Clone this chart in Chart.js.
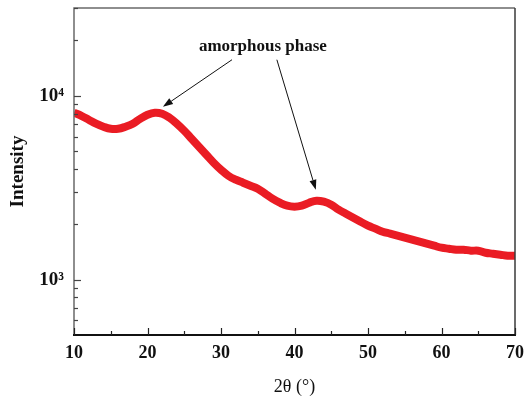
<!DOCTYPE html>
<html>
<head>
<meta charset="utf-8">
<script src="https://cdn.jsdelivr.net/npm/chart.js@4/dist/chart.umd.min.js"></script>
<style>
  html, body { margin: 0; padding: 0; background: #fff; }
  #wrap { width: 525px; height: 400px; }
</style>
</head>
<body>
<div id="wrap"><canvas id="xrd"></canvas></div>
<script>
// 2theta positions (deg) and intensity
const twoTheta = [10, 11, 12, 13, 14, 15, 16, 17, 18, 19, 20, 21, 22, 23, 24, 25, 26, 27, 28, 29,
    30, 31, 32, 33, 34, 35, 36, 37, 38, 39, 40, 41, 42, 43, 44, 45, 46, 47, 48, 49,
    50, 51, 52, 53, 54, 55, 56, 57, 58, 59, 60, 61, 62, 63, 64, 65, 66, 67, 68, 69, 70];
const intensity = [8085, 7780, 7405, 7045, 6785, 6617, 6617, 6785, 7045, 7490, 7882, 8085, 7983, 7592, 7045, 6453, 5839, 5283, 4779, 4324,
    3961, 3675, 3495, 3367, 3243, 3123, 2934, 2755, 2621, 2524, 2492, 2524, 2621, 2687, 2654, 2556, 2401, 2284, 2173, 2066,
    1966, 1893, 1823, 1778, 1734, 1692, 1650, 1609, 1569, 1530, 1492, 1473, 1455, 1455, 1437, 1437, 1401, 1384, 1367, 1350, 1350];

const xMajorTicks = [10, 20, 30, 40, 50, 60, 70];
const xMinorTicks = [15, 25, 35, 45, 55, 65];
const yMajorTicks = [1000, 10000];
const yMinorTicks = [600, 700, 800, 900, 2000, 3000, 4000, 5000, 6000, 7000, 8000, 9000, 20000, 30000];

const annoText = 'amorphous phase';
const annoAt = { x: 35.7, y: 18500 };
// arrows: tail -> head, in data units
const arrows = [
    { from: { x: 31.5, y: 15700 }, to: { x: 22.1, y: 8700 } },
    { from: { x: 37.6, y: 15700 }, to: { x: 42.9, y: 3080 } }
];

const serif = '"Liberation Serif", "Times New Roman", serif';

const supers = { '3': '\u00B3', '4': '\u2074' };
const powLabel = v => '10' + supers[String(Math.round(Math.log10(v)))];

const noEdgePad = s => {
    s.paddingTop = 0; s.paddingBottom = 0;
    s.paddingLeft = 0; s.paddingRight = 0;
};

const frameTicks = {
    id: 'frameTicks',
    afterDraw(chart) {
        const { ctx, chartArea: a, scales: { x, y } } = chart;
        ctx.save();
        // box
        ctx.lineWidth = 1.5;
        ctx.strokeStyle = '#6a6a6a';
        ctx.beginPath();
        ctx.moveTo(a.left, a.bottom);
        ctx.lineTo(a.left, a.top);
        ctx.lineTo(a.right, a.top);
        ctx.stroke();
        ctx.strokeStyle = '#3a3a3a';
        ctx.beginPath();
        ctx.moveTo(a.right, a.top);
        ctx.lineTo(a.right, a.bottom);
        ctx.stroke();
        ctx.lineWidth = 2;
        ctx.strokeStyle = '#111';
        ctx.beginPath();
        ctx.moveTo(a.left - 1, a.bottom);
        ctx.lineTo(a.right + 1, a.bottom);
        ctx.stroke();

        // inward ticks
        ctx.lineWidth = 1.2;
        ctx.strokeStyle = '#222';
        const tickX = (vals, len) => vals.forEach(v => {
            const px = Math.round(x.getPixelForValue(v)) + 0.5;
            ctx.beginPath();
            ctx.moveTo(px, a.bottom);
            ctx.lineTo(px, a.bottom - len);
            ctx.stroke();
        });
        const tickY = (vals, len) => vals.forEach(v => {
            const py = Math.round(y.getPixelForValue(v)) + 0.5;
            ctx.beginPath();
            ctx.moveTo(a.left, py);
            ctx.lineTo(a.left + len, py);
            ctx.stroke();
        });
        tickX(xMajorTicks, 7);
        tickX(xMinorTicks, 4);
        ctx.strokeStyle = '#444';
        tickY(yMajorTicks, 7);
        tickY(yMinorTicks, 4);

        // annotation
        ctx.fillStyle = '#111';
        ctx.font = 'bold 17px ' + serif;
        ctx.textAlign = 'center';
        ctx.textBaseline = 'middle';
        ctx.fillText(annoText, x.getPixelForValue(annoAt.x), y.getPixelForValue(annoAt.y));

        ctx.strokeStyle = '#111';
        ctx.lineWidth = 1;
        arrows.forEach(ar => {
            const x0 = x.getPixelForValue(ar.from.x), y0 = y.getPixelForValue(ar.from.y);
            const x1 = x.getPixelForValue(ar.to.x), y1 = y.getPixelForValue(ar.to.y);
            const ang = Math.atan2(y1 - y0, x1 - x0);
            const hl = 10, hw = 3.5;
            const bx = x1 - hl * Math.cos(ang), by = y1 - hl * Math.sin(ang);
            ctx.beginPath();
            ctx.moveTo(x0, y0);
            ctx.lineTo(bx, by);
            ctx.stroke();
            ctx.beginPath();
            ctx.moveTo(x1, y1);
            ctx.lineTo(bx + hw * Math.sin(ang), by - hw * Math.cos(ang));
            ctx.lineTo(bx - hw * Math.sin(ang), by + hw * Math.cos(ang));
            ctx.closePath();
            ctx.fill();
        });
        ctx.restore();
    }
};

new Chart(document.getElementById('xrd'), {
    type: 'line',
    data: {
        datasets: [{
            data: twoTheta.map((t, i) => ({ x: t, y: intensity[i] })),
            borderColor: '#ea1c24',
            borderWidth: 8,
            pointRadius: 0,
            tension: 0.4,
            fill: false,
            clip: 0
        }]
    },
    options: {
        responsive: true,
        maintainAspectRatio: false,
        animation: false,
        layout: { padding: { left: 0, right: 10, top: 8, bottom: 0 } },
        plugins: { legend: { display: false }, tooltip: { enabled: false } },
        scales: {
            x: {
                type: 'linear',
                min: 10,
                max: 70,
                afterFit(s) { s.height = 65; noEdgePad(s); },
                afterBuildTicks(s) { s.ticks = xMajorTicks.map(v => ({ value: v })); },
                grid: { display: false, drawTicks: false },
                border: { display: false },
                ticks: {
                    padding: 8,
                    color: '#111',
                    font: { family: serif, size: 18, weight: 'bold' },
                    maxRotation: 0,
                    autoSkip: false
                },
                title: {
                    display: true,
                    text: '2\u03B8 (\u00B0)',
                    color: '#111',
                    font: { family: serif, size: 18 },
                    padding: { top: 0, bottom: 2 }
                }
            },
            y: {
                type: 'logarithmic',
                min: 500,
                max: 30000,
                afterFit(s) { s.width = 74; noEdgePad(s); },
                afterBuildTicks(s) { s.ticks = yMajorTicks.map(v => ({ value: v })); },
                grid: { display: false, drawTicks: false },
                border: { display: false },
                ticks: {
                    padding: 10,
                    color: '#111',
                    autoSkip: false,
                    font: { family: serif, size: 19, weight: 'bold' },
                    callback: v => powLabel(v)
                },
                title: {
                    display: true,
                    text: 'Intensity',
                    color: '#111',
                    font: { family: serif, size: 19, weight: 'bold' },
                    padding: { top: 7, bottom: 0 }
                }
            }
        }
    },
    plugins: [frameTicks]
});
</script>
</body>
</html>
